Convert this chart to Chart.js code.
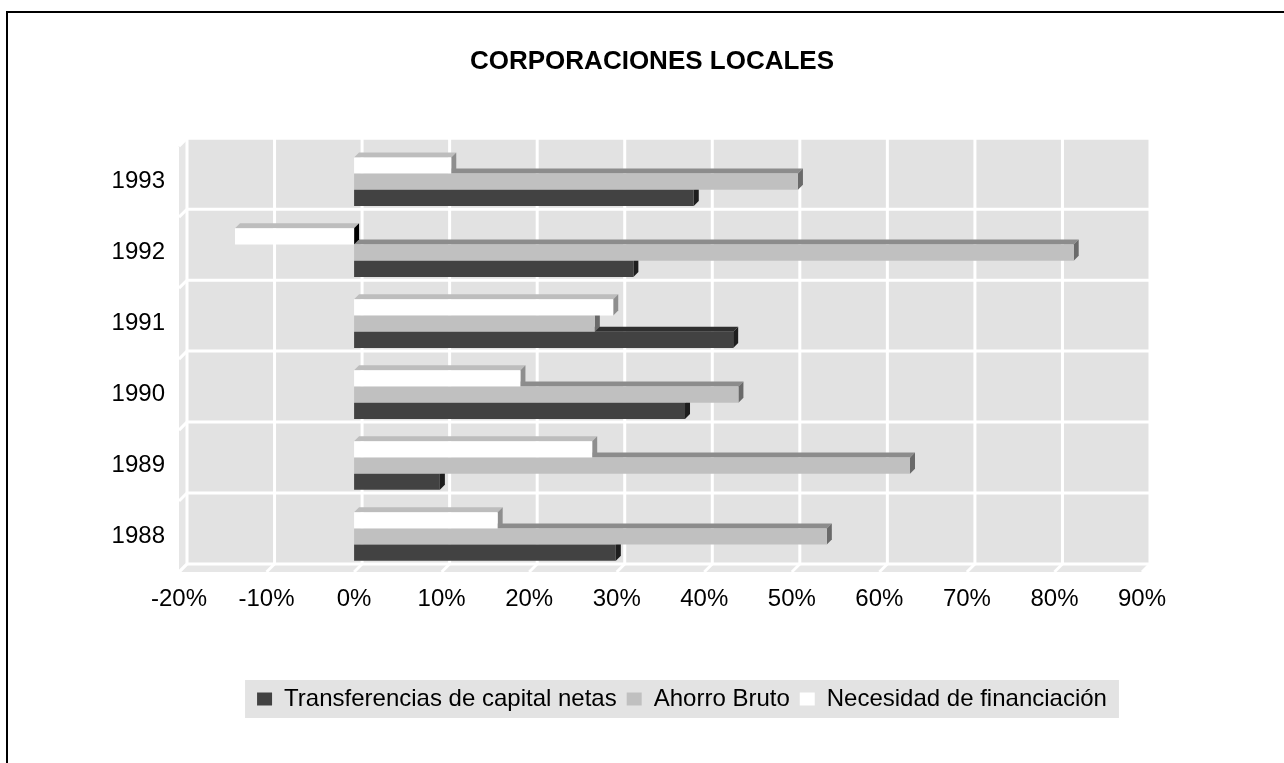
<!DOCTYPE html>
<html>
<head>
<meta charset="utf-8">
<script src="https://cdn.jsdelivr.net/npm/chart.js@4.4.0/dist/chart.umd.min.js"></script>
<style>
  html, body { margin: 0; padding: 0; background: #fff; }
  #wrap { width: 1284px; height: 763px; }
</style>
</head>
<body>
<div id="wrap"><canvas id="chart" width="1284" height="763"></canvas></div>
<script>
// datos
var years = ['1988', '1989', '1990', '1991', '1992', '1993'];
var transferencias = [29.9, 9.8, 37.8, 43.3, 31.9, 38.8];
var ahorroBruto = [54.0, 63.5, 43.9, 27.5, 82.2, 50.7];
var necesidad = [16.4, 27.2, 19.0, 29.6, -13.6, 11.1];
var xMin = -20, xMax = 90, xStep = 10;

var FONT = "'Liberation Sans', Arial, Helvetica, sans-serif";
var DEPTH = 5;        // profundidad de las barras
var WALL = 8;         // profundidad del fondo
var LEGEND_SHIFT = 30;

// caras 3D + fondo gris
var efecto3d = {
  id: 'efecto3d',
  afterLayout: function(chart) {
    chart.legend.left += LEGEND_SHIFT;
    chart.legend.right += LEGEND_SHIFT;
  },
  beforeDraw: function(chart) {
    var ctx = chart.ctx, lg = chart.legend;
    var hb = lg.legendHitBoxes;
    if (!hb || !hb.length) return;
    var l = Infinity, r = -Infinity;
    hb.forEach(function(h) { l = Math.min(l, h.left); r = Math.max(r, h.left + h.width); });
    ctx.save();
    ctx.fillStyle = '#e3e3e3';
    ctx.fillRect(l - 12, lg.top + 3, r - l + 24, lg.height - 6);
    ctx.restore();
  },
  beforeDatasetsDraw: function(chart) {
    var ctx = chart.ctx, a = chart.chartArea;
    var xs = chart.scales.x, ys = chart.scales.y;
    ctx.save();
    // pared lateral y suelo
    ctx.fillStyle = '#e6e6e6';
    ctx.beginPath();
    ctx.moveTo(a.left, a.top); ctx.lineTo(a.left + WALL, a.top - WALL);
    ctx.lineTo(a.left + WALL, a.bottom - WALL); ctx.lineTo(a.left, a.bottom);
    ctx.closePath(); ctx.fill();
    ctx.beginPath();
    ctx.moveTo(a.left, a.bottom); ctx.lineTo(a.right, a.bottom);
    ctx.lineTo(a.right + WALL, a.bottom - WALL); ctx.lineTo(a.left + WALL, a.bottom - WALL);
    ctx.closePath(); ctx.fill();
    // pared del fondo
    ctx.fillStyle = '#e2e2e2';
    ctx.fillRect(a.left + WALL, a.top - WALL, a.right - a.left, a.bottom - a.top);
    // rejilla
    ctx.strokeStyle = '#ffffff';
    ctx.lineWidth = 3;
    xs.ticks.forEach(function(t) {
      var px = xs.getPixelForValue(t.value);
      ctx.beginPath();
      ctx.moveTo(px + WALL, a.top - WALL); ctx.lineTo(px + WALL, a.bottom - WALL);
      ctx.lineTo(px, a.bottom);
      ctx.stroke();
    });
    for (var i = 0; i <= years.length; i++) {
      var py = ys.getPixelForValue(i - 0.5);
      ctx.beginPath();
      ctx.moveTo(a.left, py);
      ctx.lineTo(a.left + WALL, py - WALL);
      ctx.lineTo(a.right + WALL, py - WALL);
      ctx.stroke();
    }
    // caras superior y lateral de las barras
    for (var d = chart.data.datasets.length - 1; d >= 0; d--) {
      var ds = chart.data.datasets[d];
      var meta = chart.getDatasetMeta(d);
      meta.data.forEach(function(el) {
        var left = Math.min(el.x, el.base), right = Math.max(el.x, el.base);
        var top = el.y - el.height / 2, bottom = el.y + el.height / 2;
        ctx.fillStyle = ds.topColor;
        ctx.beginPath();
        ctx.moveTo(left, top); ctx.lineTo(left + DEPTH, top - DEPTH);
        ctx.lineTo(right + DEPTH, top - DEPTH); ctx.lineTo(right, top);
        ctx.closePath(); ctx.fill();
        // valores negativos: el extremo derecho es el lado oscuro
        ctx.fillStyle = el.x < el.base ? '#000000' : ds.sideColor;
        ctx.beginPath();
        ctx.moveTo(right, top); ctx.lineTo(right + DEPTH, top - DEPTH);
        ctx.lineTo(right + DEPTH, bottom - DEPTH); ctx.lineTo(right, bottom);
        ctx.closePath(); ctx.fill();
      });
    }
    ctx.restore();
  },
  afterDraw: function(chart) {
    var ctx = chart.ctx;
    ctx.save();
    ctx.fillStyle = '#000';
    ctx.fillRect(6, 11, chart.width - 6, 2);
    ctx.fillRect(6, 11, 2, chart.height - 11);
    ctx.restore();
  }
};

var ctx = document.getElementById('chart').getContext('2d');
var chart = new Chart(ctx, {
  type: 'bar',
  data: {
    labels: years,
    datasets: [{
      label: 'Necesidad de financiación',
      data: necesidad,
      backgroundColor: '#ffffff',
      topColor: '#bdbdbd',
      sideColor: '#8e8e8e'
    }, {
      label: 'Ahorro Bruto',
      data: ahorroBruto,
      backgroundColor: '#c0c0c0',
      topColor: '#8c8c8c',
      sideColor: '#6a6a6a'
    }, {
      label: 'Transferencias de capital netas',
      data: transferencias,
      backgroundColor: '#424242',
      topColor: '#2f2f2f',
      sideColor: '#1e1e1e'
    }]
  },
  options: {
    indexAxis: 'y',
    responsive: false,
    animation: false,
    devicePixelRatio: 1,
    borderWidth: 0,
    categoryPercentage: 0.685,
    barPercentage: 1.0,
    layout: { padding: { top: 0, left: 20, right: 0, bottom: 42 } },
    plugins: {
      title: {
        display: true,
        text: 'CORPORACIONES LOCALES',
        color: '#000',
        font: { family: FONT, size: 26, weight: 'bold' },
        padding: { top: 46, bottom: 69 }
      },
      legend: {
        position: 'bottom',
        reverse: true,
        labels: {
          color: '#000',
          font: { family: FONT, size: 24 },
          boxWidth: 15,
          boxHeight: 13,
          padding: 10
        }
      },
      tooltip: { enabled: false }
    },
    scales: {
      x: {
        min: xMin,
        max: xMax,
        grid: { display: false, drawTicks: false },
        border: { display: false },
        ticks: {
          stepSize: xStep,
          color: '#000',
          padding: 13,
          font: { family: FONT, size: 24 },
          callback: function(v) { return v + '%'; }
        },
        afterFit: function(s) { s.height = 105; }
      },
      y: {
        reverse: true,
        grid: { display: false, drawTicks: false },
        border: { display: false },
        ticks: { color: '#000', padding: 14, font: { family: FONT, size: 24 } },
        afterFit: function(s) { s.width = 159; }
      },
      yDer: {
        type: 'linear',
        position: 'right',
        grid: { display: false, drawTicks: false },
        border: { display: false },
        ticks: { display: false },
        afterFit: function(s) { s.width = 142; }
      }
    }
  },
  plugins: [efecto3d]
});
</script>
</body>
</html>
